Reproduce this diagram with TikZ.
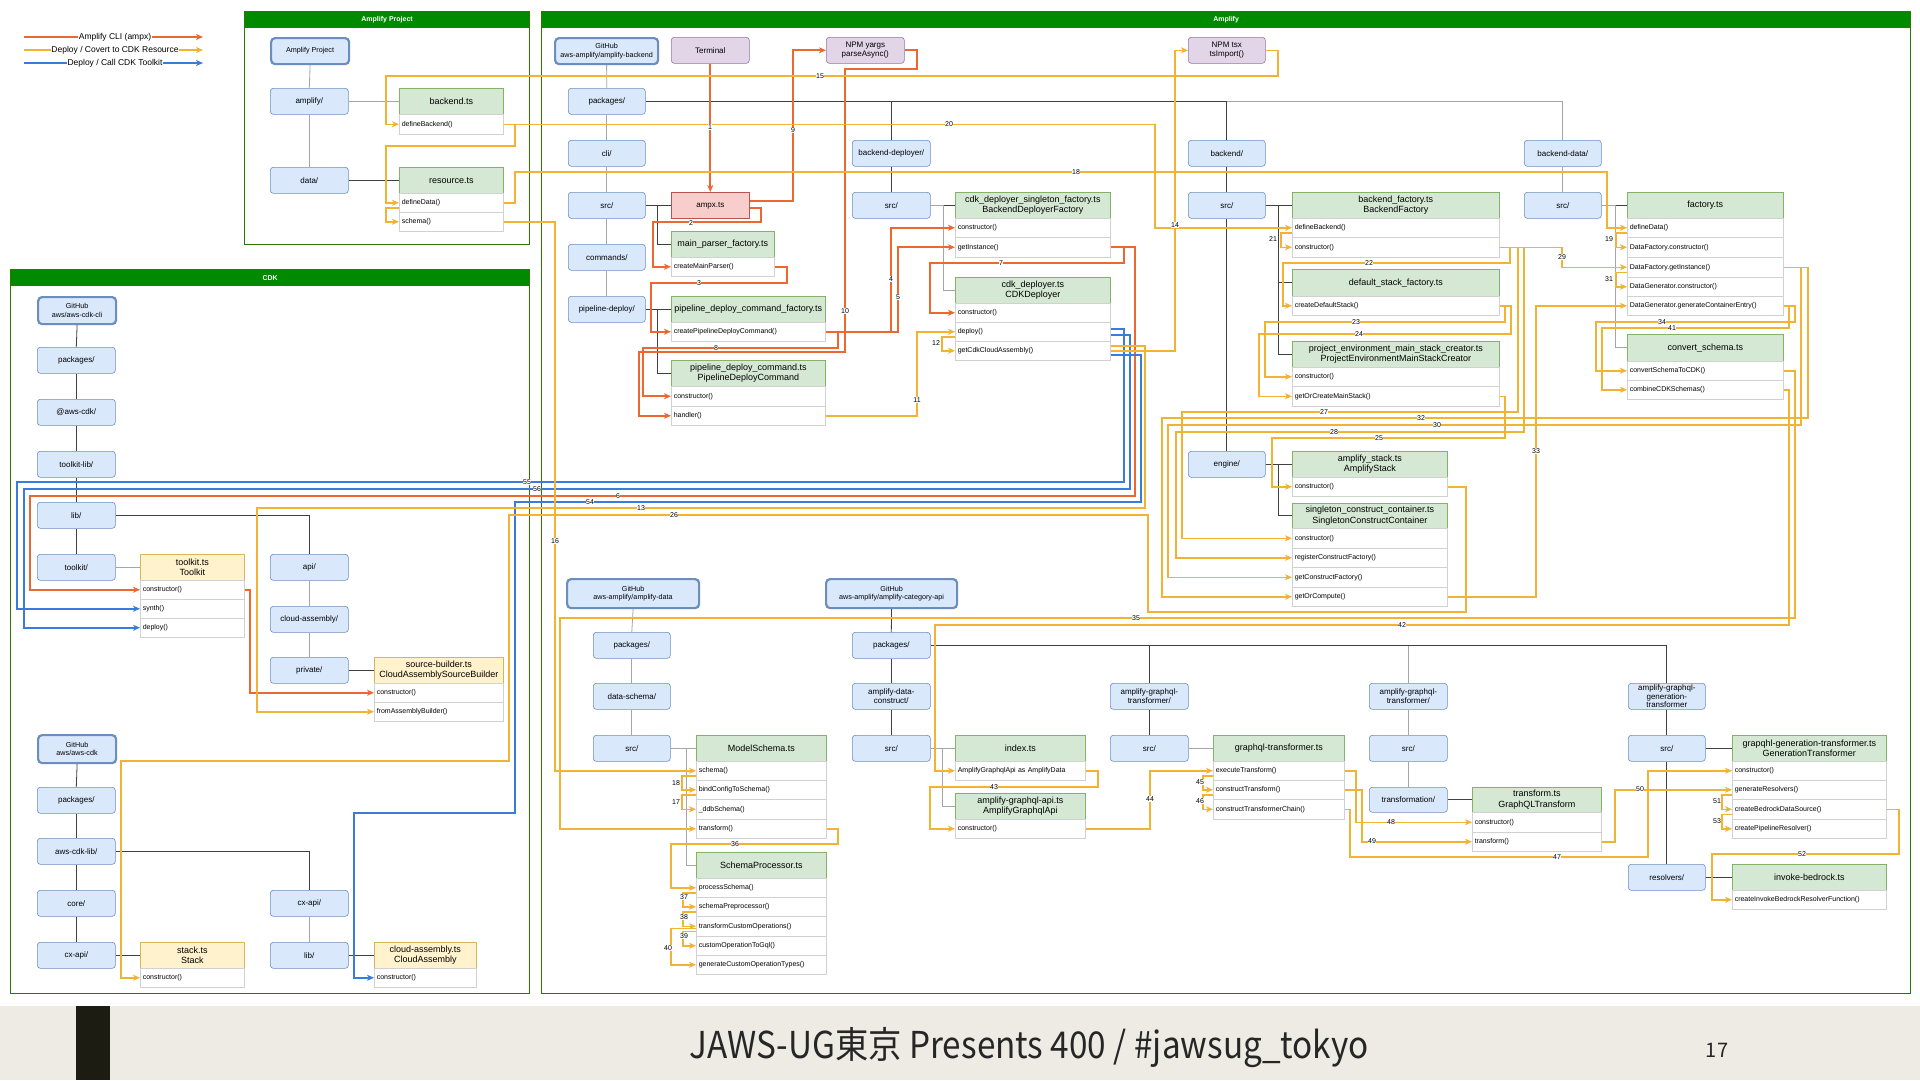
\documentclass[tikz,border=0pt]{standalone}
\usepackage{fontspec}
\setmainfont{Liberation Sans}
\newfontfamily\cjk{Noto Sans CJK JP}
\usetikzlibrary{arrows.meta}
\definecolor{cOra}{RGB}{236,104,48}
\definecolor{cYl}{RGB}{242,178,52}
\definecolor{cBl}{RGB}{58,124,219}
\definecolor{cFld}{HTML}{DAE8FC}
\definecolor{cFldB}{HTML}{6C8EBF}
\definecolor{cPur}{HTML}{E1D5E7}
\definecolor{cPurB}{HTML}{9673A6}
\definecolor{cRed}{HTML}{F8CECC}
\definecolor{cRedB}{HTML}{B85450}
\definecolor{cGrn}{HTML}{D5E8D4}
\definecolor{cGrnB}{HTML}{82B366}
\definecolor{cYel}{HTML}{FFF2CC}
\definecolor{cYelB}{HTML}{D6B656}
\definecolor{cCont}{HTML}{008A00}
\definecolor{cContB}{HTML}{2D7600}
\definecolor{cFoot}{HTML}{EEEBE4}
\definecolor{cBar}{HTML}{1C1C12}
\newcommand\Bx[7][fld]{\node[#1,minimum width=#5pt,minimum height=#6pt] (#2) at (#3,#4) {#7};}
\newcommand\Rw[6]{\node[row,text width=#4pt,minimum height=#5pt] (#1) at (#2,#3) {\hspace*{2.5pt}#6};}
\newcommand\Lb[4]{\node[lab] (#1) at (#2,#3) {#4};}
\begin{document}
\begin{tikzpicture}[x=1pt,y=-1pt,
  fld/.style={draw=cFldB,fill=cFld,rounded corners=3pt,line width=0.6pt,anchor=north west,inner sep=0pt,align=center,font=\fontsize{8}{9}\selectfont},
  repo/.style={fld,line width=2.2pt,rounded corners=4pt,font=\fontsize{7.2}{8.4}\selectfont},
  pur/.style={fld,draw=cPurB,fill=cPur},
  redb/.style={fld,draw=cRedB,fill=cRed,rounded corners=0pt},
  hg/.style={draw=cGrnB,fill=cGrn,anchor=north west,inner sep=0pt,align=center,line width=0.6pt,font=\fontsize{9}{10.5}\selectfont},
  hy/.style={hg,draw=cYelB,fill=cYel},
  row/.style={draw=black!18,fill=white,anchor=north west,inner sep=0pt,align=left,line width=0.5pt,font=\fontsize{7}{8}\selectfont},
  cont/.style={draw=cContB,line width=1.2pt,anchor=north west,inner sep=0pt},
  conth/.style={draw=cContB,fill=cCont,line width=1.2pt,anchor=north west,inner sep=0pt,text=white,font=\bfseries\fontsize{7}{8}\selectfont},
  tree/.style={draw=black!75,line width=0.8pt},
  ltree/.style={draw=black!35,line width=0.8pt},
  tip/.style={-{Stealth[length=7pt,width=6pt,inset=2pt]}},
  co/.style={draw=cOra,line width=1.7pt,tip},
  cy/.style={draw=cYl,line width=1.5pt,tip},
  cb/.style={draw=cBl,line width=1.5pt,tip},
  lab/.style={fill=white,inner sep=0.5pt,font=\fontsize{7}{8}\selectfont},
  leg/.style={fill=white,inner sep=0.5pt,font=\fontsize{8.5}{10}\selectfont}]
\useasboundingbox (0,0) rectangle (1920,1080);
\fill[white] (0,0) rectangle (1920,1080);
% ---------------- legend
\coordinate (lgA1) at (24,37); \coordinate (lgA2) at (203,37);
\coordinate (lgB1) at (24,50); \coordinate (lgB2) at (203,50);
\coordinate (lgC1) at (24,63); \coordinate (lgC2) at (203,63);
\draw[co] (lgA1) -- (lgA2);
\draw[cy] (lgB1) -- (lgB2);
\draw[cb] (lgC1) -- (lgC2);
\node[leg] (lgA) at (115,37) {Amplify CLI (ampx)};
\node[leg] (lgB) at (115,50) {Deploy / Covert to CDK Resource};
\node[leg] (lgC) at (115,63) {Deploy / Call CDK Toolkit};
% ---------------- containers
\node[cont,minimum width=285pt,minimum height=233pt] (boxAP) at (244,11) {};
\node[conth,minimum width=285pt,minimum height=16pt] (hAP) at (244,11) {Amplify Project};
\node[cont,minimum width=519pt,minimum height=724pt] (boxCDK) at (10,269) {};
\node[conth,minimum width=519pt,minimum height=16pt] (hCDK) at (10,269) {CDK};
\node[cont,minimum width=1369pt,minimum height=982pt] (boxAM) at (541,11) {};
\node[conth,minimum width=1369pt,minimum height=16pt] (hAM) at (541,11) {Amplify};
% ---------------- Amplify Project
\Bx[repo]{apRoot}{270}{37}{78}{26}{Amplify Project}
\Bx{apAmp}{270}{88}{78}{26}{amplify/}
\Bx{apData}{270}{167}{78}{26}{data/}
\Bx[hg]{beH}{399}{88}{104}{26}{backend.ts}
\Rw{beDef}{399}{114}{104}{20}{defineBackend()}
\Bx[hg]{rsH}{399}{167}{104}{26}{resource.ts}
\Rw{rsDD}{399}{193}{104}{19}{defineData()}
\Rw{rsSc}{399}{212}{104}{19}{schema()}
% ---------------- CDK
\Bx[repo]{ck1}{37}{296}{78}{27}{GitHub\\aws/aws-cdk-cli}
\Bx{ckPk}{37}{347}{78}{26}{packages/}
\Bx{ckAc}{37}{399}{78}{26}{@aws-cdk/}
\Bx{ckTl}{37}{451}{78}{26}{toolkit-lib/}
\Bx{ckLib}{37}{502}{78}{26}{lib/}
\Bx{ckTk}{37}{554}{78}{26}{toolkit/}
\Bx[hy]{tkH}{140}{554}{104}{26}{toolkit.ts\\Toolkit}
\Rw{tkCtor}{140}{580}{104}{19}{constructor()}
\Rw{tkSyn}{140}{599}{104}{19}{synth()}
\Rw{tkDep}{140}{618}{104}{19}{deploy()}
\Bx{ckApi}{270}{554}{78}{26}{api/}
\Bx{ckCa}{270}{606}{78}{26}{cloud-assembly/}
\Bx{ckPr}{270}{657}{78}{26}{private/}
\Bx[hy]{sbH}{374}{657}{129}{26}{source-builder.ts\\CloudAssemblySourceBuilder}
\Rw{sbCtor}{374}{683}{129}{19}{constructor()}
\Rw{sbFab}{374}{702}{129}{19}{fromAssemblyBuilder()}
\Bx[repo]{ck2}{37}{734}{78}{28}{GitHub\\aws/aws-cdk}
\Bx{ck2Pk}{37}{787}{78}{26}{packages/}
\Bx{ck2Lib}{37}{838}{78}{26}{aws-cdk-lib/}
\Bx{ck2Core}{37}{890}{78}{26}{core/}
\Bx{ck2Cx}{37}{942}{78}{26}{cx-api/}
\Bx[hy]{stH}{140}{942}{104}{26}{stack.ts\\Stack}
\Rw{stCtor}{140}{968}{104}{19}{constructor()}
\Bx{ck2CxR}{270}{890}{78}{26}{cx-api/}
\Bx{ck2LibR}{270}{942}{78}{26}{lib/}
\Bx[hy]{caH}{374}{942}{102}{26}{cloud-assembly.ts\\CloudAssembly}
\Rw{caCtor}{374}{968}{102}{19}{constructor()}
% ---------------- Amplify upper
\Bx[repo]{repoAB}{554}{37}{103}{26}{GitHub\\aws-amplify/amplify-backend}
\Bx[pur]{term}{671}{37}{78}{26}{Terminal}
\Bx[pur]{yargs}{826}{37}{78}{26}{NPM yargs\\parseAsync()}
\Bx[pur]{tsx}{1188}{37}{77}{26}{NPM tsx\\tsImport()}
\Bx{pkgAB}{568}{88}{77}{26}{packages/}
\Bx{cli}{568}{140}{77}{26}{cli/}
\Bx{srcCli}{568}{192}{77}{26}{src/}
\Bx{cmds}{568}{244}{77}{26}{commands/}
\Bx{pdep}{568}{296}{77}{26}{pipeline-deploy/}
\Bx[redb]{ampx}{671}{192}{78}{26}{ampx.ts}
\Bx[hg]{mpH}{671}{231}{103}{26}{main\_parser\_factory.ts}
\Rw{mpC}{671}{257}{103}{19}{createMainParser()}
\Bx[hg]{cpdcH}{671}{296}{154}{26}{pipeline\_deploy\_command\_factory.ts}
\Rw{cpdcC}{671}{322}{154}{19}{createPipelineDeployCommand()}
\Bx[hg]{pdcH}{671}{360}{154}{26}{pipeline\_deploy\_command.ts\\PipelineDeployCommand}
\Rw{pdcCtor}{671}{386}{154}{20}{constructor()}
\Rw{pdcHd}{671}{406}{154}{19}{handler()}
\Bx{bdep}{852}{140}{78}{26}{backend-deployer/}
\Bx{srcBD}{852}{192}{78}{26}{src/}
\Bx[hg]{bdfH}{955}{192}{155}{26}{cdk\_deployer\_singleton\_factory.ts\\BackendDeployerFactory}
\Rw{bdfCtor}{955}{218}{155}{19}{constructor()}
\Rw{bdfGet}{955}{237}{155}{20}{getInstance()}
\Bx[hg]{cdH}{955}{277}{155}{26}{cdk\_deployer.ts\\CDKDeployer}
\Rw{cdCtor}{955}{303}{155}{19}{constructor()}
\Rw{cdDep}{955}{322}{155}{19}{deploy()}
\Rw{cdGca}{955}{341}{155}{19}{getCdkCloudAssembly()}
\Bx{backend}{1188}{140}{77}{26}{backend/}
\Bx{srcBE}{1188}{192}{77}{26}{src/}
\Bx{engine}{1188}{451}{77}{26}{engine/}
\Bx[hg]{bfH}{1292}{192}{207}{26}{backend\_factory.ts\\BackendFactory}
\Rw{bfDef}{1292}{218}{207}{19}{defineBackend()}
\Rw{bfCtor}{1292}{237}{207}{20}{constructor()}
\Bx[hg]{dsfH}{1292}{269}{207}{27}{default\_stack\_factory.ts}
\Rw{dsfC}{1292}{296}{207}{19}{createDefaultStack()}
\Bx[hg]{pemH}{1292}{341}{207}{26}{project\_environment\_main\_stack\_creator.ts\\ProjectEnvironmentMainStackCreator}
\Rw{pemCtor}{1292}{367}{207}{19}{constructor()}
\Rw{pemGet}{1292}{386}{207}{20}{getOrCreateMainStack()}
\Bx[hg]{asH}{1292}{451}{155}{26}{amplify\_stack.ts\\AmplifyStack}
\Rw{asCtor}{1292}{477}{155}{19}{constructor()}
\Bx[hg]{sccH}{1292}{503}{155}{25}{singleton\_construct\_container.ts\\SingletonConstructContainer}
\Rw{sccCtor}{1292}{528}{155}{20}{constructor()}
\Rw{sccReg}{1292}{548}{155}{19}{registerConstructFactory()}
\Rw{sccGCF}{1292}{567}{155}{20}{getConstructFactory()}
\Rw{sccGoc}{1292}{587}{155}{19}{getOrCompute()}
\Bx{bdata}{1524}{140}{77}{26}{backend-data/}
\Bx{srcBDa}{1524}{192}{77}{26}{src/}
\Bx[hg]{fH}{1627}{192}{156}{26}{factory.ts}
\Rw{fDef}{1627}{218}{156}{19}{defineData()}
\Rw{fDfC}{1627}{237}{156}{20}{DataFactory.constructor()}
\Rw{fGI}{1627}{257}{156}{20}{DataFactory.getInstance()}
\Rw{fDgC}{1627}{277}{156}{19}{DataGenerator.constructor()}
\Rw{fGce}{1627}{296}{156}{19}{DataGenerator.generateContainerEntry()}
\Bx[hg]{csH}{1627}{334}{156}{27}{convert\_schema.ts}
\Rw{csConv}{1627}{361}{156}{19}{convertSchemaToCDK()}
\Rw{csComb}{1627}{380}{156}{19}{combineCDKSchemas()}
% ---------------- Amplify lower
\Bx[repo]{repoAD}{566}{578}{132}{29}{GitHub\\aws-amplify/amplify-data}
\Bx{pkgAD}{593}{632}{77}{26}{packages/}
\Bx{dsch}{593}{683}{77}{26}{data-schema/}
\Bx{srcAD}{593}{735}{77}{26}{src/}
\Bx[hg]{msH}{696}{735}{130}{26}{ModelSchema.ts}
\Rw{msSc}{696}{761}{130}{19}{schema()}
\Rw{msBind}{696}{780}{130}{19}{bindConfigToSchema()}
\Rw{msDdb}{696}{799}{130}{20}{\_ddbSchema()}
\Rw{msTr}{696}{819}{130}{19}{transform()}
\Bx[hg]{spH}{696}{852}{130}{26}{SchemaProcessor.ts}
\Rw{spProc}{696}{878}{130}{19}{processSchema()}
\Rw{spPre}{696}{897}{130}{19}{schemaPreprocessor()}
\Rw{spTco}{696}{916}{130}{20}{transformCustomOperations()}
\Rw{spCog}{696}{936}{130}{19}{customOperationToGql()}
\Rw{spGcot}{696}{955}{130}{19}{generateCustomOperationTypes()}
\Bx[repo]{repoAC}{825}{578}{131}{29}{GitHub\\aws-amplify/amplify-category-api}
\Bx{pkgAC}{852}{632}{78}{26}{packages/}
\Bx{adc}{852}{683}{78}{26}{amplify-data-\\construct/}
\Bx{srcAC}{852}{735}{78}{26}{src/}
\Bx[hg]{idxH}{955}{735}{130}{26}{index.ts}
\Rw{idxR}{955}{761}{130}{19}{AmplifyGraphqlApi as AmplifyData}
\Bx[hg]{agaH}{955}{793}{130}{26}{amplify-graphql-api.ts\\AmplifyGraphqlApi}
\Rw{agaCtor}{955}{819}{130}{19}{constructor()}
\Bx{gt1}{1110}{683}{78}{26}{amplify-graphql-\\transformer/}
\Bx{srcGT1}{1110}{735}{78}{26}{src/}
\Bx[hg]{gtH}{1213}{735}{131}{26}{graphql-transformer.ts}
\Rw{gtEx}{1213}{761}{131}{19}{executeTransform()}
\Rw{gtCT}{1213}{780}{131}{19}{constructTransform()}
\Rw{gtCTC}{1213}{799}{131}{20}{constructTransformerChain()}
\Bx{gt2}{1369}{683}{78}{26}{amplify-graphql-\\transformer/}
\Bx{srcGT2}{1369}{735}{78}{26}{src/}
\Bx{trfm}{1369}{787}{78}{25}{transformation/}
\Bx[hg]{tfH}{1472}{787}{129}{25}{transform.ts\\GraphQLTransform}
\Rw{tfCtor}{1472}{812}{129}{20}{constructor()}
\Rw{tfTr}{1472}{832}{129}{19}{transform()}
\Bx[fld,font=\fontsize{8}{8.6}\selectfont]{gen}{1628}{683}{77}{26}{amplify-graphql-\\generation-\\transformer}
\Bx{srcGen}{1628}{735}{77}{26}{src/}
\Bx{resv}{1628}{864}{77}{26}{resolvers/}
\Bx[hg]{gnH}{1732}{735}{154}{26}{grapqhl-generation-transformer.ts\\GenerationTransformer}
\Rw{gnCtor}{1732}{761}{154}{19}{constructor()}
\Rw{gnGR}{1732}{780}{154}{19}{generateResolvers()}
\Rw{gnCBD}{1732}{799}{154}{20}{createBedrockDataSource()}
\Rw{gnCPR}{1732}{819}{154}{19}{createPipelineResolver()}
\Bx[hg]{ibH}{1732}{864}{154}{26}{invoke-bedrock.ts}
\Rw{ibFn}{1732}{890}{154}{19}{createInvokeBedrockResolverFunction()}
% ---------------- tree lines
\draw[ltree] (apRoot.south) -- (apAmp.north);
\draw[ltree] (apAmp.south) -- (apData.north);
\draw[ltree] (apAmp.east) -- (beH.west);
\draw[tree] (apData.east) -- (rsH.west);
\draw[tree] (ck1.south) -- (ckPk.north);
\draw[tree] (ckPk.south) -- (ckAc.north);
\draw[tree] (ckAc.south) -- (ckTl.north);
\draw[tree] (ckTl.south) -- (ckLib.north);
\draw[tree] (ckLib.south) -- (ckTk.north);
\draw[tree] (ckLib.east) -| (ckApi.north);
\draw[ltree] (ckApi.south) -- (ckCa.north);
\draw[ltree] (ckCa.south) -- (ckPr.north);
\draw[tree] (ckPr.east) -- (sbH.west);
\draw[ltree] (ckTk.east) -- (tkH.west);
\draw[tree] (ck2.south) -- (ck2Pk.north);
\draw[tree] (ck2Pk.south) -- (ck2Lib.north);
\draw[tree] (ck2Lib.south) -- (ck2Core.north);
\draw[tree] (ck2Core.south) -- (ck2Cx.north);
\draw[tree] (ck2Lib.east) -| (ck2CxR.north);
\draw[ltree] (ck2CxR.south) -- (ck2LibR.north);
\draw[tree] (ck2LibR.east) -- (caH.west);
\draw[tree] (ck2Cx.east) -- (stH.west);
\draw[ltree] (repoAB.south) -- (pkgAB.north);
\draw[ltree] (pkgAB.south) -- (cli.north);
\draw[ltree] (cli.south) -- (srcCli.north);
\draw[ltree] (srcCli.south) -- (cmds.north);
\draw[ltree] (cmds.south) -- (pdep.north);
\draw[ltree] (bdata.north) |- (pkgAB.east);
\draw[tree] (bdep.north) |- (pkgAB.east);
\draw[tree] (backend.north) |- (pkgAB.east);
\draw[tree] (bdep.south) -- (srcBD.north);
\draw[tree] (srcBD.east) -- (bdfH.west);
\draw[ltree] (srcBD.east) -- ++(13,0) |- (cdH.west);
\draw[tree] (backend.south) -- (srcBE.north);
\draw[tree] (srcBE.south) -- (engine.north);
\draw[tree] (srcBE.east) -- (bfH.west);
\draw[tree] (srcBE.east) -- ++(13,0) |- (dsfH.west);
\draw[tree] (srcBE.east) -- ++(13,0) |- (pemH.west);
\draw[tree] (engine.east) -- (asH.west);
\draw[tree] (engine.east) -- ++(13,0) |- (sccH.west);
\draw[ltree] (bdata.south) -- (srcBDa.north);
\draw[tree] (srcBDa.east) -- (fH.west);
\draw[ltree] (srcBDa.east) -- ++(14,0) |- (csH.west);
\draw[tree] (srcCli.east) -- (ampx.west);
\draw[tree] (srcCli.east) -- ++(12,0) |- (mpH.west);
\draw[tree] (pdep.east) -- (cpdcH.west);
\draw[tree] (pdep.east) -- ++(12,0) |- (pdcH.west);
\draw[ltree] (repoAD.south) -- (pkgAD.north);
\draw[ltree] (pkgAD.south) -- (dsch.north);
\draw[ltree] (dsch.south) -- (srcAD.north);
\draw[ltree] (srcAD.east) -- (msH.west);
\draw[ltree] (srcAD.east) -- ++(16,0) |- (spH.west);
\draw[tree] (repoAC.south) -- (pkgAC.north);
\draw[tree] (pkgAC.south) -- (adc.north);
\draw[tree] (adc.south) -- (srcAC.north);
\draw[tree] (gt1.north) |- (pkgAC.east);
\draw[ltree] (gt2.north) |- (pkgAC.east);
\draw[tree] (gen.north) |- (pkgAC.east);
\draw[ltree] (srcAC.east) -- (idxH.west);
\draw[ltree] (srcAC.east) -- ++(12,0) |- (agaH.west);
\draw[tree] (gt1.south) -- (srcGT1.north);
\draw[ltree] (srcGT1.east) -- (gtH.west);
\draw[ltree] (gt2.south) -- (srcGT2.north);
\draw[ltree] (srcGT2.south) -- (trfm.north);
\draw[tree] (trfm.east) -- (tfH.west);
\draw[tree] (gen.south) -- (srcGen.north);
\draw[tree] (srcGen.south) -- (resv.north);
\draw[tree] (srcGen.east) -- (gnH.west);
\draw[tree] (resv.east) -- (ibH.west);
% ---------------- orange connectors
\draw[co] (term.south) -- (ampx.north);
\draw[co] ([yshift=-3pt]ampx.east) -| (761,222) -| (653,240) |- (mpC.west);
\draw[co] ([yshift=4pt]ampx.east) -| (793,60) |- (yargs.west);
\draw[co] (mpC.east) -| (787,283) -| (651,300) |- (cpdcC.west);
\draw[co] (cpdcC.east) -| (891,240) |- (bdfCtor.west);
\draw[co] (cpdcC.east) -| (898,255) |- (bdfGet.west);
\draw[co] (cpdcC.east) -| (838,348) -| (643,370) |- (pdcCtor.west);
\draw[co] (yargs.east) -| (917,69) -| (845,352) -| (639,380) |- (pdcHd.west);
\draw[co] (bdfGet.east) -| (1135,496) -| (30,560) |- (tkCtor.west);
\draw[co] (bdfGet.east) -| (1124,263) -| (930,290) |- (cdCtor.west);
\draw[co] (tkCtor.east) -| (250,650) |- (sbCtor.west);
% ---------------- blue connectors
\draw[cb] ([yshift=-4pt]cdGca.east) -| (1141,502) -| (515,813) -| (354,900) |- (caCtor.west);
\draw[cb] ([yshift=3pt]cdDep.east) -| (1124,482) -| (17,550) |- (tkSyn.west);
\draw[cb] ([yshift=-3pt]cdDep.east) -| (1130,489) -| (24,560) |- (tkDep.west);
% ---------------- yellow connectors
\draw[cy] (pdcHd.east) -| (917,350) |- (cdDep.west);
\draw[cy] ([yshift=-5pt]cdDep.west) -| (942,345) |- (cdGca.west);
\draw[cy] ([yshift=5pt]cdGca.east) -| (1145,508) -| (257,600) |- (sbFab.west);
\draw[cy] (cdGca.east) -| (1175,60) |- (tsx.west);
\draw[cy] (tsx.east) -| (1278,76) -| (386,100) |- (beDef.west);
\draw[cy] (beDef.east) -| (1155,150) |- (bfDef.west);
\draw[cy] (beDef.east) -| (515,146) -| (386,180) |- (rsDD.west);
\draw[cy] (rsDD.east) -| (515,172) -| (1607,200) |- (fDef.west);
\draw[cy] ([yshift=-5pt]rsDD.west) -| (386,215) |- (rsSc.west);
\draw[cy] (rsSc.east) -| (555,700) |- (msSc.west);
\draw[cy] ([yshift=-5pt]msSc.west) -| (682,785) |- (msBind.west);
\draw[cy] ([yshift=-5pt]msBind.west) -| (682,805) |- (msDdb.west);
\draw[cy] ([yshift=-5pt]fDef.west) -| (1616,243) |- (fDfC.west);
\draw[cy] ([yshift=-5pt]bfDef.west) -| (1281,243) |- (bfCtor.west);
\draw[cy] (bfCtor.east) -| (1562,260) |- (fGI.west);
\draw[cy] (bfCtor.east) -| (1510,263) -| (1283,290) |- (dsfC.west);
\draw[cy] (dsfC.east) -| (1505,322) -| (1265,350) |- (pemCtor.west);
\draw[cy] (dsfC.east) -| (1511,334) -| (1259,370) |- (pemGet.west);
\draw[cy] (pemGet.east) -| (1505,438) -| (1272,470) |- (asCtor.west);
\draw[cy] (asCtor.east) -| (1466,612) -| (1148,515) -| (509,761) -| (121,800) |- (stCtor.west);
\draw[cy] (bfCtor.east) -| (1518,412) -| (1182,500) |- (sccCtor.west);
\draw[cy] (bfCtor.east) -| (1524,432) -| (1176,520) |- (sccReg.west);
\draw[cy] (fGI.east) -| (1801,425) -| (1168,540) |- (sccGCF.west);
\draw[cy] (fGI.east) -| (1808,418) -| (1162,560) |- (sccGoc.west);
\draw[cy] ([yshift=-5pt]fGI.west) -| (1616,282) |- (fDgC.west);
\draw[cy] (sccGoc.east) -| (1536,320) |- (fGce.west);
\draw[cy] (fGce.east) -| (1795,322) -| (1596,345) |- (csConv.west);
\draw[cy] (fGce.east) -| (1789,328) -| (1602,360) |- (csComb.west);
\draw[cy] (csConv.east) -| (1795,618) -| (560,700) |- (msTr.west);
\draw[cy] (csComb.east) -| (1789,625) -| (935,700) |- (idxR.west);
\draw[cy] (msTr.east) -| (838,844) -| (671,860) |- (spProc.west);
\draw[cy] ([yshift=-5pt]spProc.west) -| (683,900) |- (spPre.west);
\draw[cy] ([yshift=-5pt]spPre.west) -| (683,920) |- (spTco.west);
\draw[cy] ([yshift=-5pt]spTco.west) -| (683,940) |- (spCog.west);
\draw[cy] ([yshift=-2pt]spTco.west) -| (671,950) |- (spGcot.west);
\draw[cy] (idxR.east) -| (1098,787) -| (930,800) |- (agaCtor.west);
\draw[cy] (agaCtor.east) -| (1150,790) |- (gtEx.west);
\draw[cy] ([yshift=-5pt]gtEx.west) -| (1203,785) |- (gtCT.west);
\draw[cy] ([yshift=-5pt]gtCT.west) -| (1203,805) |- (gtCTC.west);
\draw[cy] (gtEx.east) -| (1356,800) |- (tfCtor.west);
\draw[cy] (gtCT.east) -| (1362,830) |- (tfTr.west);
\draw[cy] (gtCTC.east) -| (1350,857) -| (1648,800) |- (gnCtor.west);
\draw[cy] (tfTr.east) -| (1615,800) |- (gnGR.west);
\draw[cy] ([yshift=-5pt]gnGR.west) -| (1722,805) |- (gnCBD.west);
\draw[cy] ([yshift=-5pt]gnCBD.west) -| (1722,825) |- (gnCPR.west);
\draw[cy] (gnCBD.east) -| (1899,854) -| (1712,870) |- (ibFn.west);
% ---------------- labels
\Lb{L1}{710}{127}{1}
\Lb{L2}{691}{223}{2}
\Lb{L3}{699}{283}{3}
\Lb{L4}{891}{279}{4}
\Lb{L5}{898}{297}{5}
\Lb{L6}{618}{496}{6}
\Lb{L7}{1001}{263}{7}
\Lb{L8}{716}{348}{8}
\Lb{L9}{793}{130}{9}
\Lb{L10}{845}{311}{10}
\Lb{L11}{917}{400}{11}
\Lb{L12}{936}{343}{12}
\Lb{L13}{641}{508}{13}
\Lb{L14}{1175}{225}{14}
\Lb{L15}{820}{76}{15}
\Lb{L16}{555}{541}{16}
\Lb{L17}{676}{802}{17}
\Lb{L18}{676}{783}{18}
\Lb{L18b}{1076}{172}{18}
\Lb{L19}{1609}{239}{19}
\Lb{L20}{949}{124}{20}
\Lb{L21}{1273}{239}{21}
\Lb{L22}{1369}{263}{22}
\Lb{L23}{1356}{322}{23}
\Lb{L24}{1359}{334}{24}
\Lb{L25}{1379}{438}{25}
\Lb{L26}{674}{515}{26}
\Lb{L27}{1324}{412}{27}
\Lb{L28}{1334}{432}{28}
\Lb{L29}{1562}{257}{29}
\Lb{L30}{1437}{425}{30}
\Lb{L31}{1609}{279}{31}
\Lb{L32}{1421}{418}{32}
\Lb{L33}{1536}{451}{33}
\Lb{L34}{1662}{322}{34}
\Lb{L35}{1136}{618}{35}
\Lb{L36}{735}{844}{36}
\Lb{L37}{684}{897}{37}
\Lb{L38}{684}{917}{38}
\Lb{L39}{684}{936}{39}
\Lb{L40}{668}{948}{40}
\Lb{L41}{1672}{328}{41}
\Lb{L42}{1402}{625}{42}
\Lb{L43}{994}{787}{43}
\Lb{L44}{1150}{799}{44}
\Lb{L45}{1200}{782}{45}
\Lb{L46}{1200}{801}{46}
\Lb{L47}{1557}{857}{47}
\Lb{L48}{1391}{822}{48}
\Lb{L49}{1372}{841}{49}
\Lb{L50}{1640}{789}{50}
\Lb{L51}{1717}{801}{51}
\Lb{L52}{1802}{854}{52}
\Lb{L53}{1717}{821}{53}
\Lb{L54}{590}{502}{54}
\Lb{L55}{527}{482}{55}
\Lb{L56}{537}{489}{56}
% ---------------- footer
\fill[cFoot] (0,1006) rectangle (1920,1080);
\fill[cBar] (76,1006) rectangle (110,1080);
\node[inner sep=0pt,text=black!85] (ftxt) at (1029,1048) {\scalebox{0.9}[1]{\cjk\fontsize{37}{44}\selectfont JAWS-UG東京 Presents 400 / \#jawsug\_tokyo}};
\node[inner sep=0pt,text=black!85] (fpg) at (1717,1050) {\cjk\fontsize{20}{24}\selectfont 17};
\end{tikzpicture}
\end{document}
